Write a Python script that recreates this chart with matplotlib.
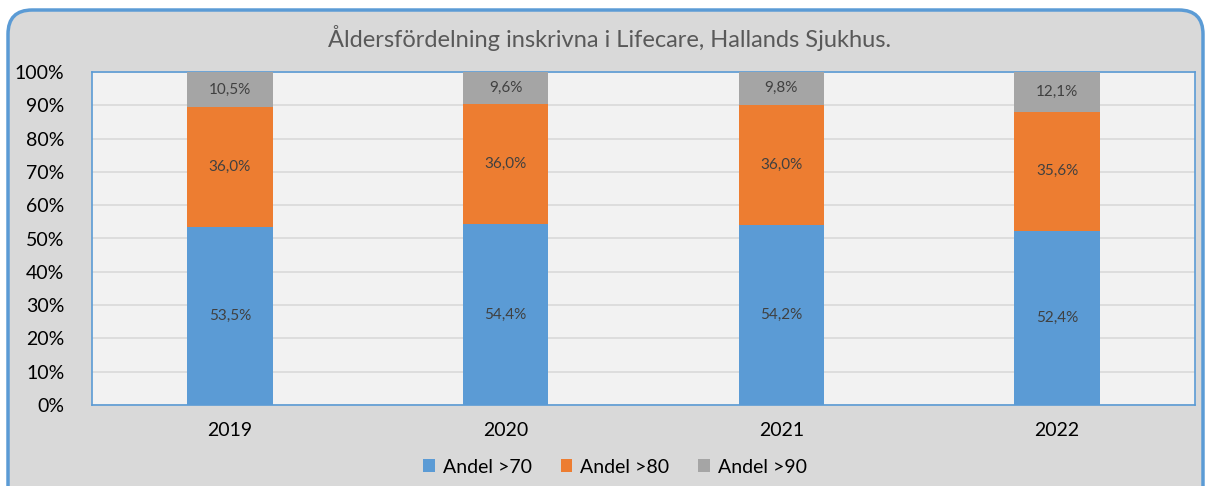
import matplotlib
matplotlib.use("Agg")
import matplotlib.pyplot as plt
from matplotlib.patches import FancyBboxPatch
import numpy as np

years = ["2019", "2020", "2021", "2022"]
andel_70 = [53.5, 54.4, 54.2, 52.4]
andel_80 = [36.0, 36.0, 36.0, 35.6]
andel_90 = [10.5, 9.6, 9.8, 12.1]
series_names = ["Andel >70", "Andel >80", "Andel >90"]
colors = ["#5B9BD5", "#ED7D31", "#A5A5A5"]

plt.rcParams["font.family"] = ["Lato", "DejaVu Sans"]

W, H = 1206, 486
fig = plt.figure(figsize=(W / 100, H / 100), dpi=100)
fig.patch.set_facecolor("white")

# rounded chart frame
frame = FancyBboxPatch((8 / W, -30 / H), (1195 / W), (506 / H),
                       boxstyle="round,pad=0,rounding_size=0.02",
                       transform=fig.transFigure, facecolor="#D9D9D9",
                       edgecolor="#5B9BD5", linewidth=2.5, zorder=-10,
                       mutation_aspect=W / H)
fig.add_artist(frame)

ax = fig.add_axes([92 / W, (H - 405) / H, 1103 / W, 333 / H])
ax.set_facecolor("#F2F2F2")
for s in ax.spines.values():
    s.set_color("#5B9BD5")
    s.set_linewidth(1.2)

x = np.arange(len(years))
width = 0.31
bottom = np.zeros(len(years))
for vals, name, c in zip([andel_70, andel_80, andel_90], series_names, colors):
    vals = np.array(vals)
    bars = ax.bar(x, vals, width, bottom=bottom, color=c, label=name, zorder=3)
    for b, v, b0 in zip(bars, vals, bottom):
        top = min(b0 + v, 100)
        ax.text(b.get_x() + b.get_width() / 2, (b0 + top) / 2,
                f"{v:.1f}%".replace(".", ","), ha="center", va="center",
                fontsize=11, color="#404040", zorder=4)
    bottom = bottom + vals

ax.set_xlim(-0.5, len(years) - 0.5)
ax.set_ylim(0, 100)
ax.set_yticks(np.arange(0, 101, 10))
ax.set_yticklabels([f"{v}%" for v in range(0, 101, 10)], fontsize=14)
ax.set_xticks(x)
ax.set_xticklabels(years, fontsize=14)
ax.tick_params(axis="both", length=0, colors="black")
ax.tick_params(axis="y", pad=20)
ax.tick_params(axis="x", pad=12)
ax.grid(axis="y", color="#D9D9D9", linewidth=1.2, zorder=0)
ax.set_axisbelow(True)

fig.text(610 / W, 1 - 38 / H, "Åldersfördelning inskrivna i Lifecare, Hallands Sjukhus.",
         ha="center", va="center", fontsize=17, color="#595959")

leg = fig.legend(loc="center", bbox_to_anchor=(615 / W, 1 - 467 / H), ncol=3,
                 frameon=False, fontsize=14, handlelength=0.6, handleheight=0.6,
                 columnspacing=1.5, handletextpad=0.4)

fig.savefig("out.png", dpi=100)
